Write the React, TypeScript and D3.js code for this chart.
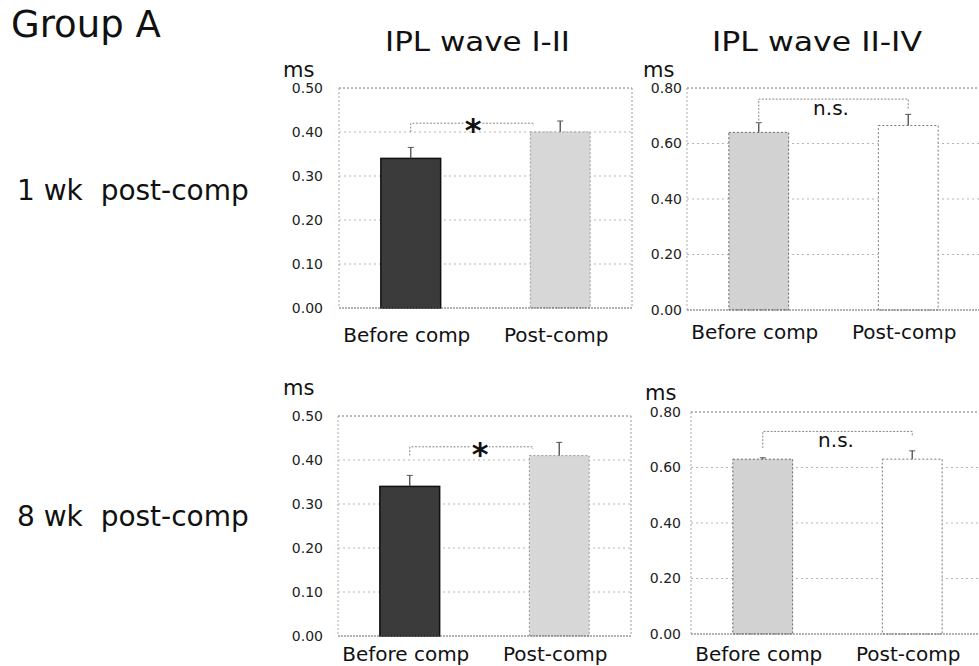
import * as d3 from 'd3';

const categories = ['Before comp', 'Post-comp'];

const wk1WaveI_II = [0.34, 0.40];
const wk1WaveI_IIErr = [0.025, 0.025];
const wk1WaveII_IV = [0.64, 0.665];
const wk1WaveII_IVErr = [0.035, 0.04];

const wk8WaveI_II = [0.34, 0.41];
const wk8WaveI_IIErr = [0.025, 0.03];
const wk8WaveII_IV = [0.63, 0.63];
const wk8WaveII_IVErr = [0.005, 0.03];

const ticksI_II = [0, 0.1, 0.2, 0.3, 0.4, 0.5];
const ticksII_IV = [0, 0.2, 0.4, 0.6, 0.8];

// significance bracket: [level, left foot, right foot]
const bracket1I_II = [0.42, 0.40, 0.415];
const bracket1II_IV = [0.76, 0.67, 0.72];
const bracket8I_II = [0.43, 0.41, 0.425];
const bracket8II_IV = [0.73, 0.67, 0.71];

const FONT = '"DejaVu Sans", Verdana, sans-serif';

type Panel = {
  x0: number; top: number; bottom: number; max: number; ticks: number[];
  values: number[]; errs: number[]; fills: string[]; strokes: string[]; dashed: boolean[];
  bracket: number[]; rightFrac: number; label: string; labelX: number; labelSize: number; labelDy: number;
  msX: number; msY: number; tickRight: number; catY: number; rightBorder: boolean;
};

const W = 293;

const panels: Panel[] = [
  {
    x0: 339, top: 88, bottom: 308, max: 0.5, ticks: ticksI_II,
    values: wk1WaveI_II, errs: wk1WaveI_IIErr,
    fills: ['#3b3b3b', '#d7d7d7'], strokes: ['#111', '#9a9a9a'], dashed: [false, true],
    bracket: bracket1I_II, rightFrac: 0.05, label: '*', labelX: 473, labelSize: 32, labelDy: 18,
    msX: 283, msY: 77, tickRight: 323, catY: 342, rightBorder: true,
  },
  {
    x0: 687, top: 88, bottom: 310, max: 0.8, ticks: ticksII_IV,
    values: wk1WaveII_IV, errs: wk1WaveII_IVErr,
    fills: ['#d2d2d2', '#ffffff'], strokes: ['#666', '#777'], dashed: [true, true],
    bracket: bracket1II_IV, rightFrac: 0.5, label: 'n.s.', labelX: 831, labelSize: 20, labelDy: 16,
    msX: 643, msY: 77, tickRight: 682, catY: 339, rightBorder: false,
  },
  {
    x0: 338, top: 416, bottom: 636, max: 0.5, ticks: ticksI_II,
    values: wk8WaveI_II, errs: wk8WaveI_IIErr,
    fills: ['#3b3b3b', '#d7d7d7'], strokes: ['#111', '#9a9a9a'], dashed: [false, true],
    bracket: bracket8I_II, rightFrac: 0.05, label: '*', labelX: 480, labelSize: 32, labelDy: 18,
    msX: 283, msY: 395, tickRight: 323, catY: 661, rightBorder: true,
  },
  {
    x0: 691, top: 412, bottom: 634, max: 0.8, ticks: ticksII_IV,
    values: wk8WaveII_IV, errs: wk8WaveII_IVErr,
    fills: ['#d2d2d2', '#ffffff'], strokes: ['#666', '#777'], dashed: [true, true],
    bracket: bracket8II_IV, rightFrac: 0.5, label: 'n.s.', labelX: 836, labelSize: 20, labelDy: 16,
    msX: 645, msY: 400, tickRight: 681, catY: 661, rightBorder: false,
  },
];

function BarPanel({ p }: { p: Panel }) {
  const x = d3.scaleBand<string>().domain(categories).range([p.x0, p.x0 + W]).paddingInner(0.6).paddingOuter(0.28);
  const y = d3.scaleLinear().domain([0, p.max]).range([p.bottom, p.top]);
  const bw = x.bandwidth();
  const fmt = d3.format('.2f');
  const [lvl, lf, rf] = p.bracket;
  const bxL = x(categories[0])! + bw / 2;
  const bxR = x(categories[1])! + bw * p.rightFrac;
  const star = p.label === '*';

  return (
    <g>
      {p.ticks.map(t => (
        <g key={t}>
          {t > 0 && t < p.max && (
            <line x1={p.x0} x2={p.x0 + W} y1={y(t)} y2={y(t)} stroke="#b5b5b5" strokeDasharray="2,3" />
          )}
          <text x={p.tickRight} y={y(t)} dy="0.35em" textAnchor="end" fontSize={14} fill="#222" fontFamily={FONT}>
            {fmt(t)}
          </text>
        </g>
      ))}
      {/* frame */}
      <line x1={p.x0} x2={p.x0 + W} y1={p.top} y2={p.top} stroke="#777" strokeDasharray="2,2" />
      <line x1={p.x0} x2={p.x0} y1={p.top} y2={p.bottom} stroke="#aaa" strokeDasharray="2,2" />
      {p.rightBorder && (
        <line x1={p.x0 + W} x2={p.x0 + W} y1={p.top} y2={p.bottom} stroke="#999" strokeDasharray="2,2" />
      )}
      {categories.map((c, i) => (
        <g key={c}>
          <line
            x1={x(c)! + bw / 2} x2={x(c)! + bw / 2}
            y1={y(p.values[i] - p.errs[i])} y2={y(p.values[i] + p.errs[i])}
            stroke="#555" strokeWidth={1}
          />
          <line
            x1={x(c)! + bw / 2 - 3} x2={x(c)! + bw / 2 + 3}
            y1={y(p.values[i] + p.errs[i])} y2={y(p.values[i] + p.errs[i])}
            stroke="#555"
          />
          <rect
            x={x(c)} y={y(p.values[i])} width={bw} height={y(0) - y(p.values[i])}
            fill={p.fills[i]} stroke={p.strokes[i]} strokeWidth={p.dashed[i] ? 1 : 1.5}
            strokeDasharray={p.dashed[i] ? '2,2' : undefined}
          />
          <line
            x1={x(c)! + bw / 2} x2={x(c)! + bw / 2}
            y1={y(p.values[i])} y2={y(p.values[i] + p.errs[i])}
            stroke="#555" strokeWidth={1}
          />
          <text x={x(c)! + bw / 2 - 4} y={p.catY} textAnchor="middle" fontSize={20} fill="#111" fontFamily={FONT}>
            {c}
          </text>
        </g>
      ))}
      <line x1={p.x0} x2={p.x0 + W} y1={p.bottom} y2={p.bottom} stroke="#666" strokeDasharray="2,1" />
      {/* significance bracket */}
      <path
        d={`M${bxL},${y(lf)}V${y(lvl)}H${bxR}V${y(rf)}`}
        fill="none" stroke="#888" strokeDasharray="2,1.5"
      />
      {star && <rect x={p.labelX - 9} y={y(lvl) - 4} width={18} height={8} fill="#fff" />}
      <text
        x={p.labelX} y={y(lvl) + p.labelDy} textAnchor="middle" fontSize={p.labelSize} fill="#111"
        fontFamily={FONT} fontWeight={star ? 'bold' : 'normal'}
      >
        {p.label}
      </text>
      <text x={p.msX} y={p.msY} fontSize={21} fill="#111" fontFamily={FONT}>ms</text>
    </g>
  );
}

export default function App() {
  return (
    <svg width={979} height={666} style={{ position: 'absolute', left: 0, top: 0, background: '#fff' }}>
      <rect width={979} height={666} fill="#fff" />
      <text x={11} y={37} fontSize={37} fill="#111" fontFamily={FONT}>Group A</text>
      <text x={385} y={51} fontSize={26} fill="#111" fontFamily={FONT} textLength={185} lengthAdjust="spacingAndGlyphs">
        IPL wave I-II
      </text>
      <text x={712} y={51} fontSize={26} fill="#111" fontFamily={FONT} textLength={210} lengthAdjust="spacingAndGlyphs">
        IPL wave II-IV
      </text>
      <text x={17} y={200} fontSize={28} fill="#111" fontFamily={FONT} style={{ whiteSpace: 'pre' }}>1 wk  post-comp</text>
      <text x={17} y={526} fontSize={28} fill="#111" fontFamily={FONT} style={{ whiteSpace: 'pre' }}>8 wk  post-comp</text>
      {panels.map((p, i) => <BarPanel key={i} p={p} />)}
    </svg>
  );
}
